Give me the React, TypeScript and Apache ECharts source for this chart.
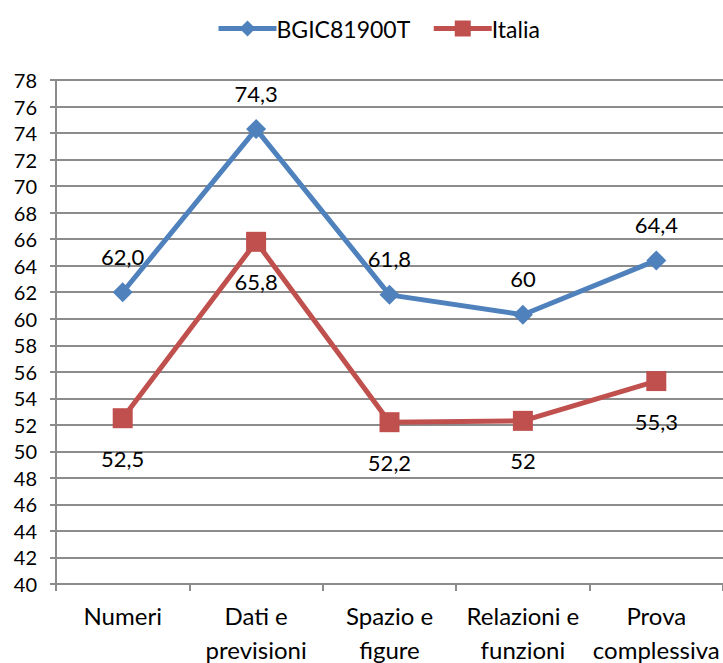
import React, { useEffect, useRef } from "react";
import * as echarts from "echarts";

const categories = ["Numeri", "Dati e\nprevisioni", "Spazio e\nfigure", "Relazioni e\nfunzioni", "Prova\ncomplessiva"];
const schoolValues = [62.0, 74.3, 61.8, 60.3, 64.4];
const schoolLabels = ["62,0", "74,3", "61,8", "60", "64,4"];
const italyValues = [52.5, 65.8, 52.2, 52.3, 55.3];
const italyLabels = ["52,5", "65,8", "52,2", "52", "55,3"];
const seriesNames = ["BGIC81900T", "Italia"];

const FONT = "Lato, 'Liberation Sans', sans-serif";

export default function App() {
  const ref = useRef<HTMLDivElement>(null);
  useEffect(() => {
    if (!ref.current) return;
    const chart = echarts.init(ref.current, undefined, { renderer: "svg" });
    chart.setOption({
      animation: false,
      backgroundColor: "#ffffff",
      textStyle: { fontFamily: FONT },
      legend: {
        left: 211,
        top: 12,
        itemWidth: 58,
        itemHeight: 20,
        itemGap: 21,
        lineStyle: { width: 5 },
        textStyle: { fontSize: 23, color: "#000", fontFamily: FONT, padding: [0, 0, 0, -5] },
        data: seriesNames,
      },
      grid: { left: 56, right: 0, top: 80, bottom: 79, containLabel: false, outerBoundsMode: "none" },
      xAxis: {
        type: "category",
        data: categories,
        boundaryGap: true,
        axisLine: { show: true, lineStyle: { color: "#8c8c8c", width: 2 } },
        axisTick: { show: true, length: 7, lineStyle: { color: "#8c8c8c", width: 2 }, alignWithLabel: false },
        axisLabel: {
          color: "#000",
          fontSize: 24,
          lineHeight: 34,
          margin: 14,
          fontFamily: FONT,
          interval: 0,
        },
        splitLine: { show: false },
      },
      yAxis: {
        type: "value",
        min: 40,
        max: 78,
        interval: 2,
        axisLine: { show: true, lineStyle: { color: "#8c8c8c", width: 2 } },
        axisTick: { show: true, length: 6, lineStyle: { color: "#8c8c8c", width: 2 } },
        axisLabel: { color: "#000", fontSize: 20, margin: 19, fontFamily: FONT },
        splitLine: { show: true, lineStyle: { color: "#8c8c8c", width: 2 } },
      },
      series: [
        {
          name: seriesNames[0],
          type: "line",
          data: schoolValues,
          symbol: "diamond",
          symbolSize: 20,
          lineStyle: { color: "#4F81BD", width: 5 },
          itemStyle: { color: "#4F81BD" },
          label: {
            show: true,
            position: "top",
            distance: 15,
            fontSize: 22,
            color: "#000",
            fontFamily: FONT,
            formatter: (p: any) => schoolLabels[p.dataIndex],
          },
        },
        {
          name: seriesNames[1],
          type: "line",
          data: italyValues,
          symbol: "rect",
          symbolSize: 20,
          lineStyle: { color: "#C0504D", width: 5 },
          itemStyle: { color: "#C0504D" },
          label: {
            show: true,
            position: "bottom",
            distance: 19,
            fontSize: 22,
            color: "#000",
            fontFamily: FONT,
            formatter: (p: any) => italyLabels[p.dataIndex],
          },
        },
      ],
    });
    return () => chart.dispose();
  }, []);
  return (
    <div
      ref={ref}
      style={{ position: "absolute", left: 0, top: 0, width: 723, height: 663 }}
    />
  );
}
